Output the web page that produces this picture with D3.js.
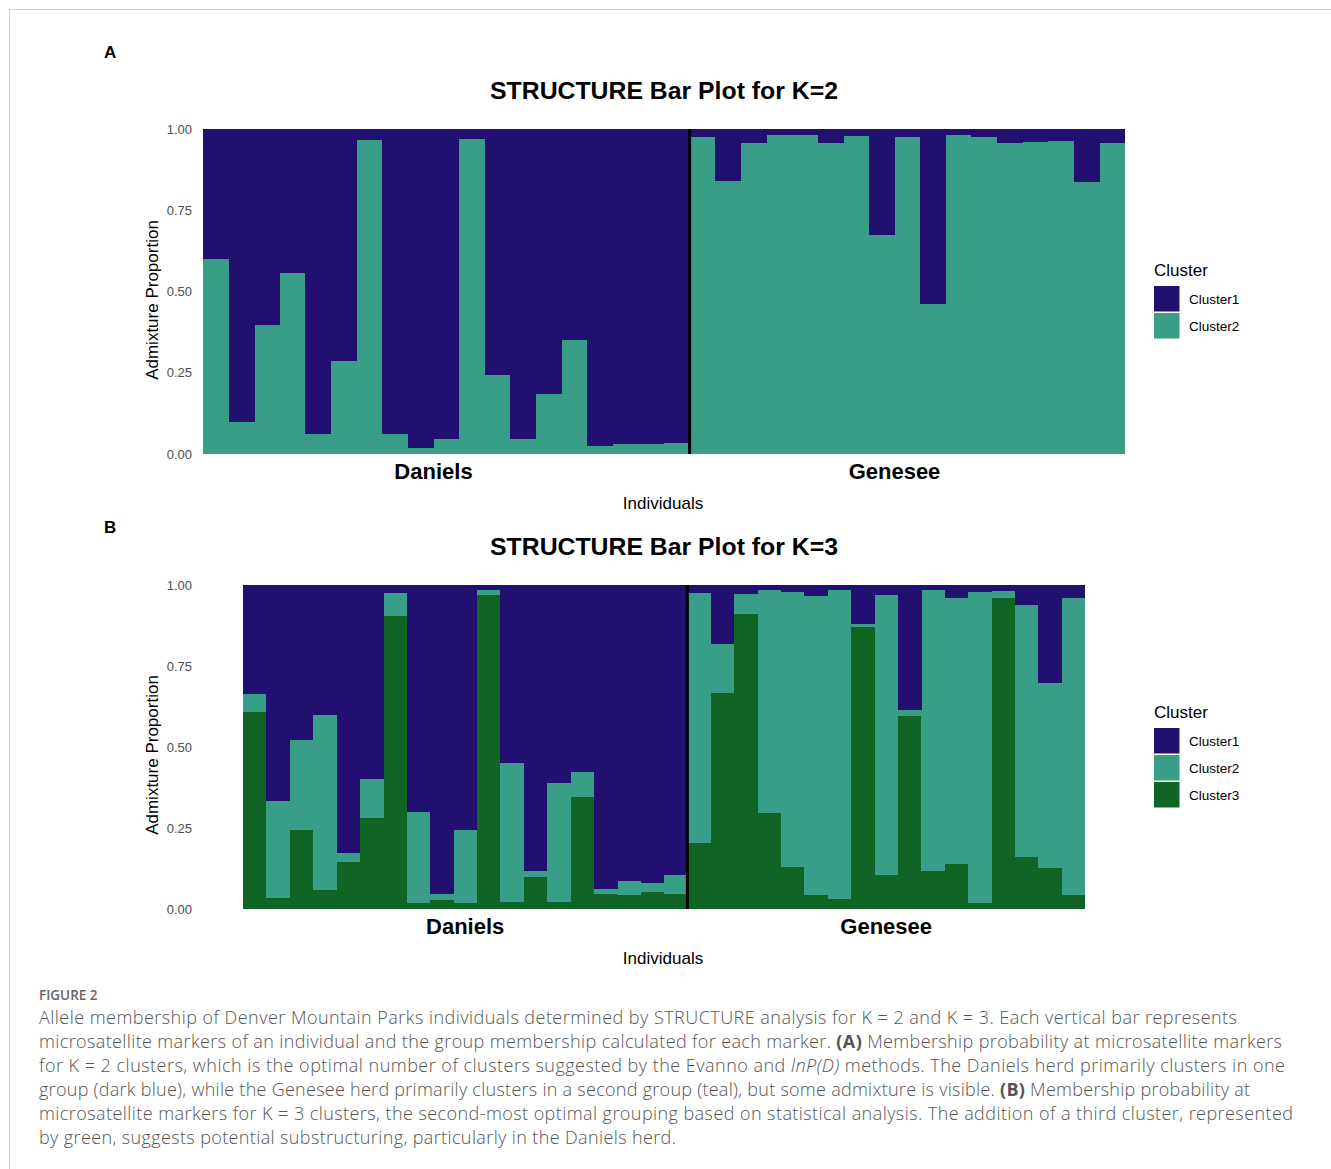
<!DOCTYPE html>
<html>
<head>
<meta charset="utf-8">
<script src="https://cdn.jsdelivr.net/npm/d3@7"></script>
<style>
  html, body { margin: 0; padding: 0; background: #fff; }
  svg { display: block; }
</style>
</head>
<body>
<svg id="chart" width="1331" height="1169"></svg>
<script>
// ---------- DATA ----------
const populations = ["Daniels", "Genesee"];
const popSizes = [19, 17];
const yTicks = [0, 0.25, 0.5, 0.75, 1];
const yTickLabels = ["0.00", "0.25", "0.50", "0.75", "1.00"];
const clusterNamesK2 = ["Cluster1", "Cluster2"];
const clusterNamesK3 = ["Cluster1", "Cluster2", "Cluster3"];

// K = 2 (per individual: Daniels 19, then Genesee 17)
const k2Cluster1 = [0.400,0.903,0.604,0.444,0.938,0.715,0.035,0.937,0.981,0.955,0.032,0.757,0.955,0.816,0.650,0.976,0.969,0.970,0.966,
                    0.024,0.160,0.044,0.018,0.019,0.044,0.021,0.327,0.025,0.537,0.019,0.026,0.042,0.040,0.037,0.164,0.042];
const k2Cluster2 = [0.600,0.097,0.396,0.556,0.062,0.285,0.965,0.063,0.019,0.045,0.968,0.243,0.045,0.184,0.350,0.024,0.031,0.030,0.034,
                    0.976,0.840,0.956,0.982,0.981,0.956,0.979,0.673,0.975,0.463,0.981,0.974,0.958,0.960,0.963,0.836,0.958];

// K = 3
const k3Cluster1 = [0.337,0.668,0.478,0.401,0.828,0.599,0.024,0.700,0.953,0.757,0.016,0.549,0.882,0.611,0.576,0.938,0.914,0.920,0.896,
                    0.025,0.181,0.027,0.016,0.022,0.033,0.016,0.119,0.030,0.387,0.015,0.039,0.023,0.018,0.062,0.303,0.039];
const k3Cluster2 = [0.054,0.299,0.278,0.540,0.026,0.119,0.071,0.280,0.018,0.224,0.015,0.429,0.019,0.367,0.078,0.017,0.044,0.026,0.059,
                    0.772,0.151,0.063,0.689,0.848,0.924,0.953,0.012,0.865,0.017,0.867,0.823,0.958,0.021,0.776,0.571,0.919];
const k3Cluster3 = [0.609,0.033,0.244,0.059,0.146,0.282,0.905,0.020,0.029,0.019,0.969,0.022,0.099,0.022,0.346,0.045,0.042,0.054,0.045,
                    0.203,0.668,0.910,0.295,0.130,0.043,0.031,0.869,0.105,0.596,0.118,0.138,0.019,0.961,0.162,0.126,0.042];

const captionTitle = "FIGURE 2";

// ---------- STYLE ----------
const colors = { Cluster1: "#221070", Cluster2: "#389e87", Cluster3: "#106524" };
const FONT = "'Liberation Sans', Arial, Helvetica, sans-serif";

const svg = d3.select("#chart");

// frame
svg.append("rect").attr("x", 9.5).attr("y", 9.5).attr("width", 1340).attr("height", 1200)
  .attr("fill", "none").attr("stroke", "#cfcfcf").attr("stroke-width", 1);

function panel(cfg) {
  const n = cfg.series[0].length;
  const rows = d3.range(n).map(i => {
    const r = { idx: i };
    cfg.keys.forEach((k, j) => r[k] = cfg.series[j][i]);
    return r;
  });
  const x = d3.scaleBand().domain(d3.range(n)).range([cfg.x0, cfg.x1]).padding(0);
  const y = d3.scaleLinear().domain([0, 1]).range([cfg.y1, cfg.y0]);
  const stack = d3.stack().keys(cfg.stackOrder);
  const layers = stack(rows);

  const g = svg.append("g");

  g.append("text").attr("x", 104).attr("y", cfg.letterY).text(cfg.letter)
    .attr("font-family", FONT).attr("font-weight", "bold").attr("font-size", 17).attr("fill", "#000");

  g.append("text").attr("x", 664).attr("y", cfg.titleY).attr("text-anchor", "middle")
    .attr("font-family", FONT).attr("font-weight", "bold").attr("font-size", 24.8).attr("fill", "#000")
    .text(cfg.title);

  g.selectAll("g.layer").data(layers).join("g").attr("class", "layer")
    .attr("fill", d => colors[d.key])
    .selectAll("rect").data(d => d).join("rect")
    .attr("x", d => x(d.data.idx))
    .attr("width", x.bandwidth() + 0.3)
    .attr("y", d => y(d[1]))
    .attr("height", d => Math.max(0, y(d[0]) - y(d[1])))
    .attr("shape-rendering", "crispEdges");

  const divX = x(popSizes[0]);
  g.append("line").attr("x1", divX).attr("x2", divX).attr("y1", y(1)).attr("y2", y(0))
    .attr("stroke", "#000").attr("stroke-width", 3);

  const yAxis = d3.axisLeft(y).tickValues(yTicks).tickFormat((d, i) => yTickLabels[i]).tickSize(0).tickPadding(0);
  const ax = g.append("g").attr("transform", `translate(192,0)`).call(yAxis);
  ax.select(".domain").remove();
  ax.selectAll("text").attr("font-family", FONT).attr("font-size", 13).attr("fill", "#4d4d4d");

  g.append("text").attr("transform", `translate(158,${cfg.yTitleY}) rotate(-90)`)
    .attr("text-anchor", "middle").attr("font-family", FONT).attr("font-size", 17).attr("fill", "#000")
    .text("Admixture Proportion");

  let start = 0;
  populations.forEach((p, i) => {
    const pos = cfg.x0 + (start + popSizes[i] / 2 + cfg.labelShift) * x.step();
    g.append("text").attr("x", pos).attr("y", cfg.groupY).attr("text-anchor", "middle")
      .attr("font-family", FONT).attr("font-weight", "bold").attr("font-size", 22).attr("fill", "#000")
      .text(p);
    start += popSizes[i];
  });

  g.append("text").attr("x", 663).attr("y", cfg.xTitleY).attr("text-anchor", "middle")
    .attr("font-family", FONT).attr("font-size", 17).attr("fill", "#000").text("Individuals");

  const lg = g.append("g").attr("transform", `translate(1154,${cfg.legendY})`);
  lg.append("text").attr("x", 0).attr("y", 0).attr("dy", "0.35em")
    .attr("font-family", FONT).attr("font-size", 17).attr("fill", "#000").text("Cluster");
  cfg.keys.forEach((k, i) => {
    const ky = 16 + i * 27;
    lg.append("rect").attr("x", 0).attr("y", ky).attr("width", 25.5).attr("height", 25.5)
      .attr("fill", colors[k]);
    lg.append("text").attr("x", 35).attr("y", ky + 13).attr("dy", "0.35em")
      .attr("font-family", FONT).attr("font-size", 13.5).attr("fill", "#000").text(k);
  });
}

panel({
  letter: "A", letterY: 58, title: "STRUCTURE Bar Plot for K=2", titleY: 99,
  keys: clusterNamesK2, series: [k2Cluster1, k2Cluster2], stackOrder: ["Cluster2", "Cluster1"],
  x0: 203, x1: 1125, y0: 129, y1: 454, yTitleY: 300, groupY: 479, xTitleY: 509,
  labelShift: -0.5, legendY: 270
});

panel({
  letter: "B", letterY: 533, title: "STRUCTURE Bar Plot for K=3", titleY: 555,
  keys: clusterNamesK3, series: [k3Cluster1, k3Cluster2, k3Cluster3], stackOrder: ["Cluster3", "Cluster2", "Cluster1"],
  x0: 243, x1: 1085, y0: 585, y1: 909, yTitleY: 755, groupY: 934, xTitleY: 964,
  labelShift: 0, legendY: 712
});

// ---------- CAPTION ----------
const CAP = "'Open Sans', 'Noto Sans', sans-serif";
svg.append("text").attr("x", 39).attr("y", 1000).attr("font-family", CAP).attr("font-size", 13.5)
  .attr("font-weight", 600).attr("fill", "#666").text(captionTitle);

const captionLines = [
  [["Allele membership of Denver Mountain Parks individuals determined by STRUCTURE analysis for K = 2 and K = 3. Each vertical bar represents", ""]],
  [["microsatellite markers of an individual and the group membership calculated for each marker. ", ""], ["(A)", "b"], [" Membership probability at microsatellite markers", ""]],
  [["for K = 2 clusters, which is the optimal number of clusters suggested by the Evanno and ", ""], ["lnP(D)", "i"], [" methods. The Daniels herd primarily clusters in one", ""]],
  [["group (dark blue), while the Genesee herd primarily clusters in a second group (teal), but some admixture is visible. ", ""], ["(B)", "b"], [" Membership probability at", ""]],
  [["microsatellite markers for K = 3 clusters, the second-most optimal grouping based on statistical analysis. The addition of a third cluster, represented", ""]],
  [["by green, suggests potential substructuring, particularly in the Daniels herd.", ""]]
];
const captionWidths = [1198, 1243, 1246, 1211, 1254, 637];
captionLines.forEach((parts, i) => {
  const t = svg.append("text").attr("x", 39).attr("y", 1024 + i * 24)
    .attr("font-family", CAP).attr("font-size", 18).attr("font-weight", 300).attr("fill", "#555")
    .attr("xml:space", "preserve")
    .attr("textLength", captionWidths[i]).attr("lengthAdjust", "spacing");
  parts.forEach(([s, st]) => {
    const ts = t.append("tspan").text(s);
    if (st === "b") ts.attr("font-weight", 700);
    if (st === "i") ts.attr("font-style", "italic");
  });
});
</script>
</body>
</html>
